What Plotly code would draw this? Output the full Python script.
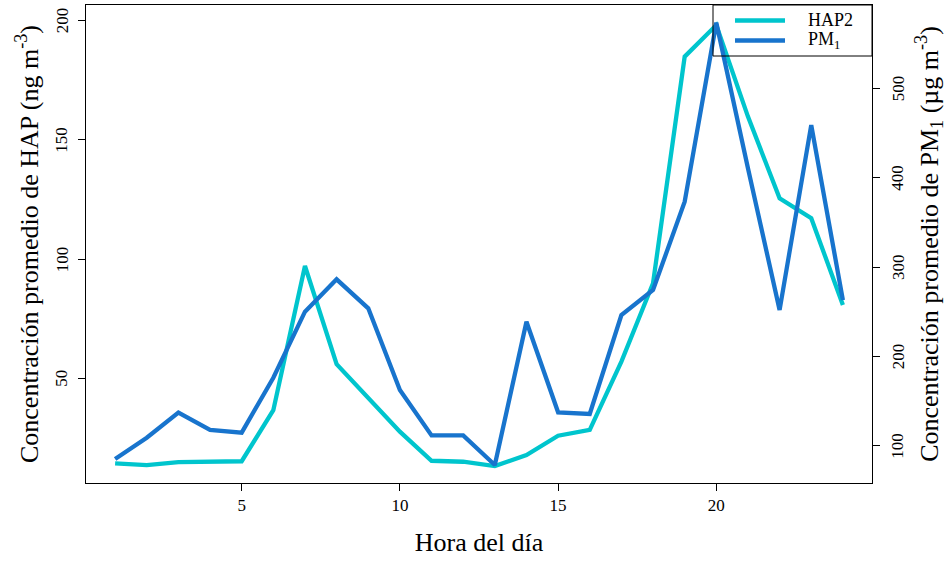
import plotly.graph_objects as go

# Hourly mean concentrations
hours = list(range(1, 25))
hap2 = [14.6, 13.9, 15.1, 15.5, 15.5, 36.9, 97.2, 56.1, 41.8, 27.9, 15.7, 15.3,
        13.5, 18.1, 26.2, 28.6, 57.2, 90.0, 184.8, 198.0, 159.7, 125.5, 117.2, 80.9]
pm1 = [85.1, 109.0, 137.0, 117.6, 114.6, 176.1, 250.0, 286.2, 253.8, 162.3, 111.6, 111.6,
       78.4, 238.8, 137.4, 135.5, 246.3, 274.3, 373.1, 573.4, 410.5, 251.9, 458.9, 263.0]

x_ticks = [5, 10, 15, 20]
hap_ticks = [50, 100, 150, 200]
pm_ticks = [100, 200, 300, 400, 500]

HAP_COLOR = "#00C5CD"
PM_COLOR = "#1874CD"
FONT = "Liberation Serif"

# plot area in pixels
L, R, T, B = 86, 75, 5, 78
W, H = 947, 561
PW, PH = W - L - R, H - T - B


def px_x(px):
    return (px - L) / PW


def px_y(py):
    return 1 - (py - T) / PH


fig = go.Figure()
fig.add_trace(go.Scatter(x=hours, y=hap2, mode="lines", name="HAP2",
                         line=dict(color=HAP_COLOR, width=4.3), showlegend=False))
fig.add_trace(go.Scatter(x=hours, y=pm1, mode="lines", name="PM<sub>1</sub>", yaxis="y2",
                         line=dict(color=PM_COLOR, width=4.3), showlegend=False))

axis_common = dict(showgrid=False, zeroline=False, showline=True, linecolor="black",
                   linewidth=1, ticks="outside", ticklen=7, tickcolor="black",
                   automargin=False,
                   tickfont=dict(family=FONT, size=17, color="black"))

fig.update_layout(
    width=W, height=H,
    margin=dict(l=L, r=R, t=T, b=B),
    paper_bgcolor="white", plot_bgcolor="white",
    font=dict(family=FONT, color="black"),
    xaxis=dict(range=[0.08, 24.92], tickvals=x_ticks, mirror=True,
               title=dict(text="Hora del día", font=dict(size=26), standoff=18),
               **axis_common),
    yaxis=dict(range=[6.4, 206.4], tickvals=hap_ticks, showticklabels=False,
               title=dict(text="Concentración promedio de HAP (ng m<sup>-3</sup>)",
                          font=dict(size=26), standoff=31),
               **axis_common),
    yaxis2=dict(range=[58.3, 593.2], tickvals=pm_ticks, showticklabels=False,
                overlaying="y", side="right",
                title=dict(text="Concentración promedio de PM<sub>1</sub> (µg m<sup>-3</sup>)",
                           font=dict(size=26), standoff=44),
                **axis_common),
)

# Rotated y tick labels, placed on each axis' own scale
for v in hap_ticks:
    fig.add_annotation(xref="paper", yref="y", x=px_x(62), y=v, text=str(v),
                       textangle=-90, showarrow=False, xanchor="center", yanchor="middle",
                       font=dict(family=FONT, size=17, color="black"))
for v in pm_ticks:
    fig.add_annotation(xref="paper", yref="y2", x=px_x(898), y=v, text=str(v),
                       textangle=-90, showarrow=False, xanchor="center", yanchor="middle",
                       font=dict(family=FONT, size=17, color="black"))

# Legend box in the top-right corner
fig.add_shape(type="rect", xref="paper", yref="paper",
              x0=px_x(713), x1=1.0, y0=px_y(56), y1=1.0,
              line=dict(color="black", width=1), fillcolor="rgba(0,0,0,0)")
legend_items = [("HAP2", HAP_COLOR, 20.5), ("PM<sub>1</sub>", PM_COLOR, 40.5)]
for label, color, ypx in legend_items:
    yp = px_y(ypx)
    fig.add_shape(type="line", xref="paper", yref="paper",
                  x0=px_x(735), x1=px_x(785), y0=yp, y1=yp,
                  line=dict(color=color, width=4.3))
    fig.add_annotation(xref="paper", yref="paper", x=px_x(806), y=yp,
                       text=label, showarrow=False, xanchor="left", yanchor="middle",
                       font=dict(family=FONT, size=18, color="black"))

fig.write_html("out.html")
